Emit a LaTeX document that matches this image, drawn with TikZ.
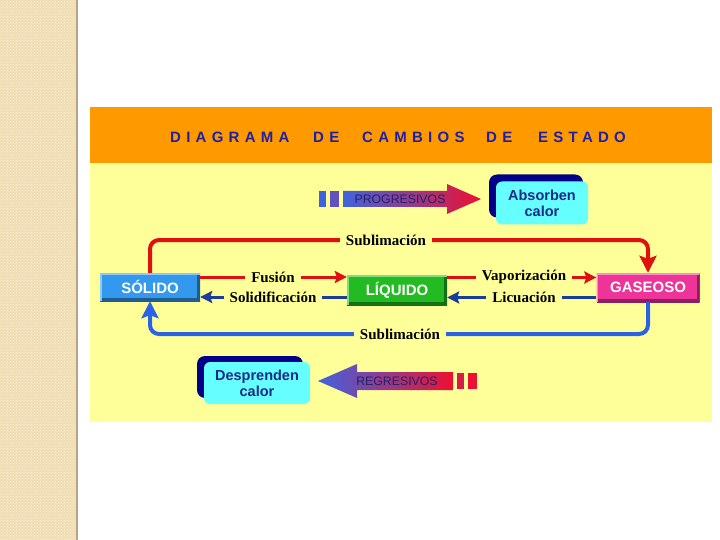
\documentclass[tikz,border=0pt]{standalone}
\usepackage{fontspec}
\setmainfont{Liberation Serif}
\setsansfont{Liberation Sans}
\newfontfamily\titlefont{Liberation Sans}[LetterSpace=35]
\usetikzlibrary{arrows.meta,patterns}
\definecolor{orangeh}{HTML}{FF9900}
\definecolor{bodyy}{HTML}{FFFF99}
\definecolor{titleblue}{HTML}{1F1FA8}
\definecolor{redl}{HTML}{E01010}
\definecolor{bluel}{HTML}{2A62E6}
\definecolor{navyl}{HTML}{1A3C9A}
\definecolor{solidc}{HTML}{3399EE}
\definecolor{liqc}{HTML}{22BB22}
\definecolor{gasc}{HTML}{EE3399}
\definecolor{cyanb}{HTML}{66FFFF}
\definecolor{shadowb}{HTML}{000088}
\definecolor{boxtext}{HTML}{1A2A88}
\definecolor{stripc}{HTML}{F0DDB2}
\definecolor{gradblue}{HTML}{3F63E0}
\definecolor{gradred}{HTML}{EE1030}
\definecolor{arrtext}{HTML}{222266}
\tikzset{
  statebox/.style={minimum width=100pt, minimum height=28pt, inner sep=0pt,
    font=\sffamily\bfseries\fontsize{15}{15}\selectfont, text=white, fill=#1,
    path picture={
      \draw[line width=6pt,#1!60!black] (path picture bounding box.south west) -- (path picture bounding box.south east) -- (path picture bounding box.north east);
      \draw[line width=3pt,#1!55!white] (path picture bounding box.south west) -- (path picture bounding box.north west) -- (path picture bounding box.north east);}},
  lbl/.style={fill=bodyy, inner xsep=6pt, inner ysep=1pt, font=\bfseries\fontsize{15}{16}\selectfont, text=black},
  redbig/.style={draw=redl, line width=4pt, rounded corners=9pt, -{Stealth[width=17pt,length=17pt,inset=3pt]}},
  bluebig/.style={draw=bluel, line width=4pt, rounded corners=9pt, -{Stealth[width=17pt,length=17pt,inset=3pt]}},
  redthin/.style={draw=redl, line width=3pt, -{Stealth[width=12pt,length=12pt,inset=2pt]}},
  navythin/.style={draw=navyl, line width=3pt, -{Stealth[width=12pt,length=12pt,inset=2pt]}},
  calorbox/.style={fill=cyanb, rounded corners=6pt, minimum width=92pt, minimum height=43pt, inner sep=0pt, align=center,
    font=\sffamily\bfseries\fontsize{14.5}{16}\selectfont, text=boxtext},
  shadowbox/.style={fill=shadowb, rounded corners=8pt, minimum width=94pt, minimum height=43pt, inner sep=0pt},
  arrlbl/.style={font=\sffamily\fontsize{12.3}{13}\selectfont, text=arrtext, inner sep=0pt},
  ttl/.style={font=\titlefont\bfseries\fontsize{15}{15}\selectfont, text=titleblue, anchor=west, inner sep=0pt}
}
\begin{document}
\begin{tikzpicture}[x=1pt,y=-1pt]
\useasboundingbox (0,0) rectangle (720,540);
\fill[white] (0,0) rectangle (720,540);
\fill[stripc] (0,0) rectangle (76,540);
\fill[pattern=crosshatch dots, pattern color=white!60!stripc] (0,0) rectangle (76,540);
\fill[stripc!75!black] (76,0) rectangle (78,540);
% panel
\fill[orangeh] (90,107) rectangle (712,163);
\fill[bodyy] (90,163) rectangle (712,422);
% title
\node[ttl] (t1) at (170,137) {DIAGRAMA};
\node[ttl] (t2) at (313,137) {DE};
\node[ttl] (t3) at (362,137) {CAMBIOS};
\node[ttl] (t4) at (486,137) {DE};
\node[ttl] (t5) at (538,137) {ESTADO};
% progresivos arrow
\fill[gradblue] (319,191) rectangle (326,207);
\fill[gradblue!80!gradred] (330,191) rectangle (339,207);
\shade[left color=gradblue, right color=gradred] (343,191) -- (447,191) -- (447,184) -- (481,199) -- (447,214) -- (447,207) -- (343,207) -- cycle;
\node[arrlbl] (prog) at (400,199) {PROGRESIVOS};
% absorben calor
\node[shadowbox] (abss) at (536,196) {};
\node[calorbox] (abs) at (542,203) {Absorben\\calor};
% states
\node[statebox=solidc] (solido) at (150,287) {SÓLIDO};
\node[statebox=liqc, minimum height=30pt] (liquido) at (397,290) {LÍQUIDO};
\node[statebox=gasc, minimum width=103pt, minimum height=29pt] (gaseoso) at (648,287.5) {GASEOSO};
% sublimation paths
\coordinate (toplevel) at (400,240);
\coordinate (botlevel) at (400,334);
\draw[redbig] (solido.north) |- (toplevel) -| (gaseoso.north);
\node[lbl] (subtop) at (386,240) {Sublimación};
\draw[bluebig] (gaseoso.south) |- (botlevel) -| (solido.south);
\node[lbl] (subbot) at (400,334) {Sublimación};
% horizontal arrows
\draw[redthin] ([yshift=10pt]solido.east) -- ([yshift=10pt]solido.east -| liquido.west);
\node[lbl] (fus) at (273,277) {Fusión};
\draw[navythin] ([yshift=-10pt]solido.east -| liquido.west) -- ([yshift=-10pt]solido.east);
\node[lbl] (sol) at (273,297) {Solidificación};
\draw[redthin] ([yshift=10pt]gaseoso.west -| liquido.east) -- ([yshift=10pt]gaseoso.west);
\node[lbl] (vap) at (524,277) {Vaporización};
\draw[navythin] ([yshift=-10pt]gaseoso.west) -- ([yshift=-10pt]gaseoso.west -| liquido.east);
\node[lbl] (lic) at (524,297) {Licuación};
% regresivos arrow
\fill[gradred] (468,373) rectangle (477,389);
\fill[gradred!85!gradblue] (457,373) rectangle (464,389);
\shade[left color=gradblue, right color=gradred] (453,372) -- (357,372) -- (357,364) -- (318,381) -- (357,398) -- (357,390) -- (453,390) -- cycle;
\node[arrlbl] (reg) at (397,381) {REGRESIVOS};
% desprenden calor
\node[shadowbox, minimum width=106pt, minimum height=42pt] (desps) at (250,377) {};
\node[calorbox, minimum width=106pt, minimum height=42pt] (desp) at (257,383) {Desprenden\\calor};
\end{tikzpicture}
\end{document}
